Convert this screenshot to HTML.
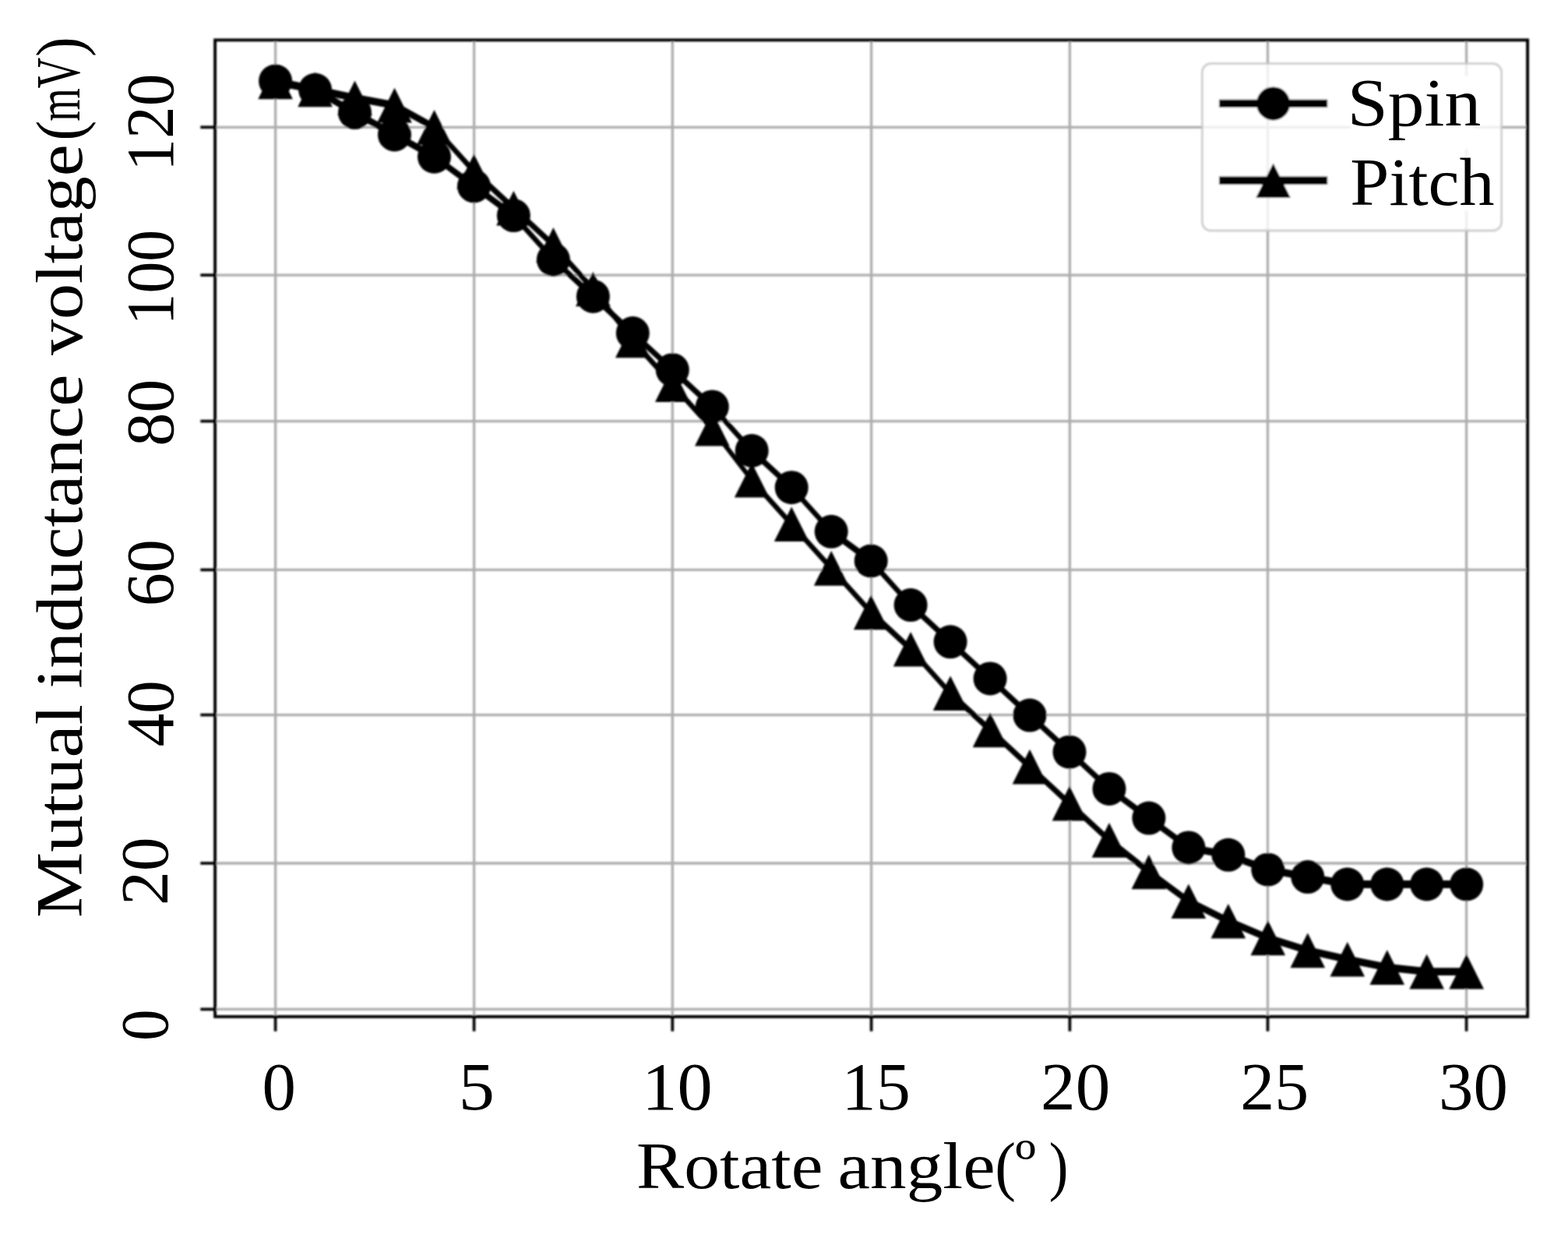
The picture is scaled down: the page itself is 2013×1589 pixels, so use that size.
<!DOCTYPE html>
<html lang="en"><head><meta charset="utf-8"><title>Chart</title>
<style>html,body{margin:0;padding:0;background:#fff}body{width:2013px;height:1589px;overflow:hidden}svg{display:block}text{font-family:"Liberation Serif", serif;fill:#000}</style>
</head><body>
<svg width="2013" height="1589" viewBox="0 0 2013 1589">
<defs><filter id="soft" x="-5%" y="-5%" width="110%" height="110%"><feGaussianBlur stdDeviation="1.2"/></filter></defs>
<rect width="2013" height="1589" fill="#fff"/>
<g filter="url(#soft)">
<g stroke="#adadad" stroke-width="3.30" fill="none">
<line x1="353.6" y1="51.4" x2="353.6" y2="1304.9"/>
<line x1="608.6" y1="51.4" x2="608.6" y2="1304.9"/>
<line x1="863.3" y1="51.4" x2="863.3" y2="1304.9"/>
<line x1="1118.6" y1="51.4" x2="1118.6" y2="1304.9"/>
<line x1="1373.4" y1="51.4" x2="1373.4" y2="1304.9"/>
<line x1="1627.5" y1="51.4" x2="1627.5" y2="1304.9"/>
<line x1="1882.6" y1="51.4" x2="1882.6" y2="1304.9"/>
<line x1="276.1" y1="1295.4" x2="1961.1" y2="1295.4"/>
<line x1="276.1" y1="1108.0" x2="1961.1" y2="1108.0"/>
<line x1="276.1" y1="917.6" x2="1961.1" y2="917.6"/>
<line x1="276.1" y1="731.4" x2="1961.1" y2="731.4"/>
<line x1="276.1" y1="540.6" x2="1961.1" y2="540.6"/>
<line x1="276.1" y1="353.1" x2="1961.1" y2="353.1"/>
<line x1="276.1" y1="163.3" x2="1961.1" y2="163.3"/>
</g>
<g fill="#000" stroke="none">
<polygon points="353.6,99.1 404.6,110.4 455.5,139.7 506.5,168.0 557.5,196.3 608.5,234.0 659.4,271.7 710.4,328.3 761.4,375.5 812.3,422.7 863.3,469.8 914.3,517.0 965.2,573.6 1016.2,620.8 1067.2,677.4 1118.2,715.1 1169.1,771.7 1220.1,818.9 1271.1,866.0 1322.0,913.2 1373.0,960.3 1424.0,1007.5 1474.9,1045.2 1525.9,1083.0 1576.9,1092.4 1627.8,1111.3 1678.8,1120.7 1729.8,1130.1 1780.8,1130.1 1831.7,1130.1 1882.7,1130.1 1882.7,1139.9 1831.7,1139.9 1780.8,1139.9 1729.8,1139.9 1678.8,1130.5 1627.8,1121.1 1576.9,1102.2 1525.9,1092.8 1474.9,1055.0 1424.0,1017.3 1373.0,970.1 1322.0,923.0 1271.1,875.8 1220.1,828.7 1169.1,781.5 1118.2,724.9 1067.2,687.2 1016.2,630.6 965.2,583.4 914.3,526.8 863.3,479.6 812.3,432.5 761.4,385.3 710.4,338.1 659.4,281.5 608.5,243.8 557.5,206.1 506.5,177.8 455.5,149.5 404.6,120.2 353.6,108.9"/>
<circle cx="353.6" cy="104.0" r="21.5"/>
<circle cx="404.6" cy="115.3" r="21.5"/>
<circle cx="455.5" cy="144.6" r="21.5"/>
<circle cx="506.5" cy="172.9" r="21.5"/>
<circle cx="557.5" cy="201.2" r="21.5"/>
<circle cx="608.5" cy="238.9" r="21.5"/>
<circle cx="659.4" cy="276.6" r="21.5"/>
<circle cx="710.4" cy="333.2" r="21.5"/>
<circle cx="761.4" cy="380.4" r="21.5"/>
<circle cx="812.3" cy="427.6" r="21.5"/>
<circle cx="863.3" cy="474.7" r="21.5"/>
<circle cx="914.3" cy="521.9" r="21.5"/>
<circle cx="965.2" cy="578.5" r="21.5"/>
<circle cx="1016.2" cy="625.7" r="21.5"/>
<circle cx="1067.2" cy="682.3" r="21.5"/>
<circle cx="1118.2" cy="720.0" r="21.5"/>
<circle cx="1169.1" cy="776.6" r="21.5"/>
<circle cx="1220.1" cy="823.8" r="21.5"/>
<circle cx="1271.1" cy="870.9" r="21.5"/>
<circle cx="1322.0" cy="918.1" r="21.5"/>
<circle cx="1373.0" cy="965.2" r="21.5"/>
<circle cx="1424.0" cy="1012.4" r="21.5"/>
<circle cx="1474.9" cy="1050.1" r="21.5"/>
<circle cx="1525.9" cy="1087.9" r="21.5"/>
<circle cx="1576.9" cy="1097.3" r="21.5"/>
<circle cx="1627.8" cy="1116.2" r="21.5"/>
<circle cx="1678.8" cy="1125.6" r="21.5"/>
<circle cx="1729.8" cy="1135.0" r="21.5"/>
<circle cx="1780.8" cy="1135.0" r="21.5"/>
<circle cx="1831.7" cy="1135.0" r="21.5"/>
<circle cx="1882.7" cy="1135.0" r="21.5"/>
<polygon points="353.6,100.1 404.6,110.0 455.5,120.8 506.5,130.2 557.5,158.5 608.5,215.1 659.4,262.3 710.4,309.5 761.4,366.1 812.3,432.1 863.3,488.7 914.3,545.3 965.2,611.3 1016.2,667.9 1067.2,724.5 1118.2,781.1 1169.1,828.3 1220.1,884.9 1271.1,932.0 1322.0,979.2 1373.0,1026.4 1424.0,1073.5 1474.9,1114.1 1525.9,1151.8 1576.9,1177.3 1627.8,1199.0 1678.8,1215.0 1729.8,1226.4 1780.8,1236.7 1831.7,1242.2 1882.7,1242.2 1882.7,1252.0 1831.7,1252.0 1780.8,1246.5 1729.8,1236.2 1678.8,1224.8 1627.8,1208.8 1576.9,1187.1 1525.9,1161.6 1474.9,1123.9 1424.0,1083.3 1373.0,1036.2 1322.0,989.0 1271.1,941.8 1220.1,894.7 1169.1,838.1 1118.2,790.9 1067.2,734.3 1016.2,677.7 965.2,621.1 914.3,555.1 863.3,498.5 812.3,441.9 761.4,375.9 710.4,319.3 659.4,272.1 608.5,224.9 557.5,168.3 506.5,140.0 455.5,130.6 404.6,119.8 353.6,109.9"/>
<polygon points="353.6,82.7 331.3,127.3 375.9,127.3"/>
<polygon points="404.6,92.6 382.3,137.2 426.9,137.2"/>
<polygon points="455.5,103.4 433.2,148.0 477.8,148.0"/>
<polygon points="506.5,112.8 484.2,157.4 528.8,157.4"/>
<polygon points="557.5,141.1 535.2,185.7 579.8,185.7"/>
<polygon points="608.5,197.7 586.2,242.3 630.8,242.3"/>
<polygon points="659.4,244.9 637.1,289.5 681.7,289.5"/>
<polygon points="710.4,292.1 688.1,336.7 732.7,336.7"/>
<polygon points="761.4,348.7 739.1,393.3 783.7,393.3"/>
<polygon points="812.3,414.7 790.0,459.3 834.6,459.3"/>
<polygon points="863.3,471.3 841.0,515.9 885.6,515.9"/>
<polygon points="914.3,527.9 892.0,572.5 936.6,572.5"/>
<polygon points="965.2,593.9 942.9,638.5 987.5,638.5"/>
<polygon points="1016.2,650.5 993.9,695.1 1038.5,695.1"/>
<polygon points="1067.2,707.1 1044.9,751.7 1089.5,751.7"/>
<polygon points="1118.2,763.7 1095.9,808.3 1140.5,808.3"/>
<polygon points="1169.1,810.9 1146.8,855.5 1191.4,855.5"/>
<polygon points="1220.1,867.5 1197.8,912.1 1242.4,912.1"/>
<polygon points="1271.1,914.6 1248.8,959.2 1293.4,959.2"/>
<polygon points="1322.0,961.8 1299.7,1006.4 1344.3,1006.4"/>
<polygon points="1373.0,1009.0 1350.7,1053.6 1395.3,1053.6"/>
<polygon points="1424.0,1056.1 1401.7,1100.7 1446.3,1100.7"/>
<polygon points="1474.9,1096.7 1452.6,1141.3 1497.2,1141.3"/>
<polygon points="1525.9,1134.4 1503.6,1179.0 1548.2,1179.0"/>
<polygon points="1576.9,1159.9 1554.6,1204.5 1599.2,1204.5"/>
<polygon points="1627.8,1181.6 1605.5,1226.2 1650.1,1226.2"/>
<polygon points="1678.8,1197.6 1656.5,1242.2 1701.1,1242.2"/>
<polygon points="1729.8,1209.0 1707.5,1253.6 1752.1,1253.6"/>
<polygon points="1780.8,1219.3 1758.5,1263.9 1803.1,1263.9"/>
<polygon points="1831.7,1224.8 1809.4,1269.4 1854.0,1269.4"/>
<polygon points="1882.7,1224.8 1860.4,1269.4 1905.0,1269.4"/>
</g>
<g stroke="#000" stroke-width="3.70" fill="none">
<line x1="353.6" y1="1304.9" x2="353.6" y2="1323.7"/>
<line x1="608.6" y1="1304.9" x2="608.6" y2="1323.7"/>
<line x1="863.3" y1="1304.9" x2="863.3" y2="1323.7"/>
<line x1="1118.6" y1="1304.9" x2="1118.6" y2="1323.7"/>
<line x1="1373.4" y1="1304.9" x2="1373.4" y2="1323.7"/>
<line x1="1627.5" y1="1304.9" x2="1627.5" y2="1323.7"/>
<line x1="1882.6" y1="1304.9" x2="1882.6" y2="1323.7"/>
<line x1="257.3" y1="1295.4" x2="276.1" y2="1295.4"/>
<line x1="257.3" y1="1108.0" x2="276.1" y2="1108.0"/>
<line x1="257.3" y1="917.6" x2="276.1" y2="917.6"/>
<line x1="257.3" y1="731.4" x2="276.1" y2="731.4"/>
<line x1="257.3" y1="540.6" x2="276.1" y2="540.6"/>
<line x1="257.3" y1="353.1" x2="276.1" y2="353.1"/>
<line x1="257.3" y1="163.3" x2="276.1" y2="163.3"/>
</g>
<rect x="276.1" y="51.4" width="1685.0" height="1253.5" fill="none" stroke="#000" stroke-width="3.90"/>
<rect x="1543.4" y="81.7" width="384.2" height="214.3" rx="11" ry="11" fill="#fff" fill-opacity="0.8" stroke="#c6c6c6" stroke-opacity="0.85" stroke-width="2.8"/>
<g stroke="#000" stroke-width="10.40">
<line x1="1565.0" y1="132.9" x2="1704.2" y2="132.9"/>
<line x1="1565.0" y1="231.7" x2="1704.2" y2="231.7"/>
</g>
<circle cx="1634.6" cy="132.9" r="21.5" fill="#000"/>
<polygon points="1634.6,209.4 1612.3,254.0 1656.9,254.0" fill="#000"/>
<rect x="1734" y="98" width="158" height="93" fill="#fff"/>
<rect x="1734" y="200" width="186" height="71" fill="#fff"/>
</g>
<g>
<text y="1424.13"><tspan x="336.40" font-size="87.4" textLength="43.40" lengthAdjust="spacingAndGlyphs">0</tspan></text>
<text y="1424.13"><tspan x="588.73" font-size="87.4" textLength="46.28" lengthAdjust="spacingAndGlyphs">5</tspan></text>
<text y="1424.13"><tspan x="824.34" font-size="87.4" textLength="90.50" lengthAdjust="spacingAndGlyphs">10</tspan></text>
<text y="1424.13"><tspan x="1080.63" font-size="87.4" textLength="88.32" lengthAdjust="spacingAndGlyphs">15</tspan></text>
<text y="1424.13"><tspan x="1336.07" font-size="87.4" textLength="89.32" lengthAdjust="spacingAndGlyphs">20</tspan></text>
<text y="1424.13"><tspan x="1592.23" font-size="87.4" textLength="88.00" lengthAdjust="spacingAndGlyphs">25</tspan></text>
<text y="1424.13"><tspan x="1846.93" font-size="87.4" textLength="88.95" lengthAdjust="spacingAndGlyphs">30</tspan></text>
<text transform="translate(222.23,0) rotate(-90)"><tspan x="-219.63" font-size="87.4" textLength="125.00" lengthAdjust="spacingAndGlyphs">120</tspan></text>
<text transform="translate(222.23,0) rotate(-90)"><tspan x="-417.51" font-size="87.4" textLength="122.82" lengthAdjust="spacingAndGlyphs">100</tspan></text>
<text transform="translate(222.23,0) rotate(-90)"><tspan x="-572.76" font-size="87.4" textLength="85.82" lengthAdjust="spacingAndGlyphs">80</tspan></text>
<text transform="translate(222.23,0) rotate(-90)"><tspan x="-778.31" font-size="87.4" textLength="86.29" lengthAdjust="spacingAndGlyphs">60</tspan></text>
<text transform="translate(222.23,0) rotate(-90)"><tspan x="-958.61" font-size="87.4" textLength="85.46" lengthAdjust="spacingAndGlyphs">40</tspan></text>
<text transform="translate(214.63,0) rotate(-90)"><tspan x="-1162.06" font-size="87.4" textLength="87.69" lengthAdjust="spacingAndGlyphs">20</tspan></text>
<text transform="translate(214.63,0) rotate(-90)"><tspan x="-1336.09" font-size="87.4" textLength="40.68" lengthAdjust="spacingAndGlyphs">0</tspan></text>
</g>
<text y="160.70"><tspan x="1729.73" font-size="86.5" textLength="171.57" lengthAdjust="spacingAndGlyphs">Spin</tspan></text>
<text y="262.70"><tspan x="1733.39" font-size="86.5" textLength="185.05" lengthAdjust="spacingAndGlyphs">Pitch</tspan></text>
<text y="1524.80"><tspan x="817.04" font-size="84" textLength="239.51" lengthAdjust="spacingAndGlyphs">Rotate</tspan> <tspan x="1075.64" font-size="84" textLength="201.98" lengthAdjust="spacingAndGlyphs">angle</tspan><tspan x="1277.16" font-size="84" textLength="26.82" lengthAdjust="spacingAndGlyphs">(</tspan><tspan x="1303.34" dy="-6.00" font-size="83" textLength="26.82" lengthAdjust="spacingAndGlyphs">º</tspan> <tspan x="1346.72" dy="6.00" font-size="84" textLength="24.75" lengthAdjust="spacingAndGlyphs">)</tspan></text>
<text transform="translate(104.60,0) rotate(-90)"><tspan x="-1178.05" font-size="84" textLength="273.91" lengthAdjust="spacingAndGlyphs">Mutual</tspan> <tspan x="-883.66" font-size="84" textLength="403.32" lengthAdjust="spacingAndGlyphs">inductance</tspan> <tspan x="-456.10" font-size="84" textLength="270.76" lengthAdjust="spacingAndGlyphs">voltage</tspan><tspan x="-180.59" font-size="84" textLength="25.66" lengthAdjust="spacingAndGlyphs">(</tspan><tspan x="-155.65" dy="-2.20" font-size="81" textLength="81.95" lengthAdjust="spacingAndGlyphs">mV</tspan><tspan x="-73.07" dy="2.20" font-size="84" textLength="25.66" lengthAdjust="spacingAndGlyphs">)</tspan></text>
</svg>
</body></html>
